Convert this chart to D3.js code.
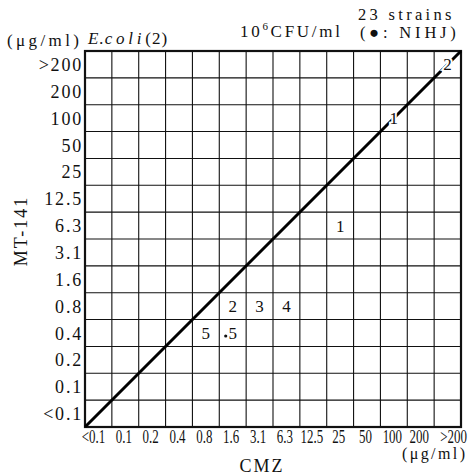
<!DOCTYPE html>
<html>
<head>
<meta charset="utf-8">
<script src="https://cdn.jsdelivr.net/npm/d3@7"></script>
<style>
  body { margin: 0; background: #fff; }
  svg { display: block; font-family: "Liberation Serif", "DejaVu Serif", serif; }
</style>
</head>
<body>
<svg id="chart" width="468" height="476"></svg>
<script>
'use strict';

// MIC categories, same on both axes
var micLabels = ['<0.1', '0.1', '0.2', '0.4', '0.8', '1.6', '3.1', '6.3', '12.5', '25', '50', '100', '200', '>200'];

// one entry per occupied cell
var cmzValues   = ['>200', '100', '25', '1.6', '3.1', '6.3', '0.8', '1.6'];
var mt141Values = ['>200', '100', '6.3', '0.8', '0.8', '0.8', '0.4', '0.4'];
var strainCounts = [2, 1, 1, 2, 3, 4, 5, 5];
var hasNIHJ = [false, false, false, false, false, false, false, true];

(function() {
  var svg = d3.select('#chart');
  svg.append('rect').attr('width', 468).attr('height', 476).attr('fill', '#fff');

  var plotLeft = 85, plotRight = 461, plotTop = 51, plotBottom = 427;

  var x = d3.scaleBand().domain(micLabels).range([plotLeft, plotRight]);
  var y = d3.scaleBand().domain(micLabels).range([plotBottom, plotTop]);

  // grid
  var grid = svg.append('g').attr('stroke', '#111').attr('stroke-width', 1.1);
  micLabels.slice(1).forEach(function(d) {
    grid.append('line')
      .attr('x1', x(d)).attr('x2', x(d))
      .attr('y1', plotTop).attr('y2', plotBottom);
    grid.append('line')
      .attr('x1', plotLeft).attr('x2', plotRight)
      .attr('y1', y(d) + y.bandwidth()).attr('y2', y(d) + y.bandwidth());
  });

  svg.append('rect')
    .attr('x', plotLeft).attr('y', plotTop)
    .attr('width', plotRight - plotLeft).attr('height', plotBottom - plotTop)
    .attr('fill', 'none').attr('stroke', '#111').attr('stroke-width', 2.2);

  // line of equal MIC
  svg.append('line')
    .attr('x1', x.range()[0]).attr('y1', y.range()[0])
    .attr('x2', x.range()[1]).attr('y2', y.range()[1])
    .attr('stroke', '#000').attr('stroke-width', 3);

  // counts in cells
  var cells = svg.append('g').attr('font-size', 17).attr('text-anchor', 'middle');
  cmzValues.forEach(function(c, i) {
    var cx = x(c) + x.bandwidth() / 2;
    var cy = y(mt141Values[i]) + y.bandwidth() / 2;
    cells.append('text')
      .attr('x', cx).attr('y', cy + 6)
      .attr('stroke', '#fff').attr('stroke-width', 4)
      .attr('paint-order', 'stroke')
      .attr('fill', '#111')
      .text(strainCounts[i]);
    if (hasNIHJ[i]) {
      cells.append('circle')
        .attr('cx', cx - 7).attr('cy', cy + 3)
        .attr('r', 1.6).attr('fill', '#111');
    }
  });

  // y tick labels
  svg.append('g').attr('font-size', 18).attr('text-anchor', 'end').attr('fill', '#111')
    .attr('letter-spacing', 1.8)
    .selectAll('text').data(micLabels).join('text')
    .attr('x', 83)
    .attr('y', function(d) { return y(d) + y.bandwidth() / 2 + 6.5; })
    .text(function(d) { return d; });

  // x tick labels (condensed); the < and > sit outside the number
  svg.append('g').attr('font-size', 18).attr('text-anchor', 'middle').attr('fill', '#111')
    .selectAll('text').data(micLabels).join('text')
    .attr('transform', function(d) {
      var shift = -1.5;
      if (d.charAt(0) === '<') shift = -5;
      if (d.charAt(0) === '>') shift = 6;
      return 'translate(' + (x(d) + x.bandwidth() / 2 + shift) + ',443) scale(0.72,1)';
    })
    .text(function(d) { return d; });

  // titles
  var t = svg.append('g').attr('fill', '#111').attr('font-size', 17);
  t.append('text').attr('x', 7).attr('y', 46).attr('letter-spacing', 3.4)
    .text('(\u03bcg/ml)');
  var eco = t.append('text').attr('x', 88).attr('y', 44);
  eco.append('tspan').attr('font-style', 'italic').attr('letter-spacing', 1).text('E.');
  eco.append('tspan').attr('font-style', 'italic').attr('letter-spacing', 3.8).text('coli');
  eco.append('tspan').attr('letter-spacing', 1).text('(2)');

  var cfu = t.append('text').attr('x', 240).attr('y', 37).attr('letter-spacing', 2.7);
  cfu.append('tspan').text('10');
  cfu.append('tspan').attr('font-size', 11).attr('dy', -7).text('6');
  cfu.append('tspan').attr('dy', 7).text('CFU/ml');

  t.append('text').attr('x', 358).attr('y', 20).attr('font-size', 16.5).attr('letter-spacing', 3.3)
    .text('23 strains');
  t.append('text').attr('x', 360).attr('y', 38).attr('font-size', 16.5).attr('letter-spacing', 3.8)
    .text('(\u25cf: NIHJ)');

  t.append('text').attr('x', 262).attr('y', 472).attr('font-size', 18)
    .attr('text-anchor', 'middle').attr('letter-spacing', 2).text('CMZ');
  t.append('text').attr('x', 402).attr('y', 459).attr('font-size', 16).attr('letter-spacing', 2.4)
    .text('(\u03bcg/ml)');

  t.append('text')
    .attr('transform', 'translate(27,231) rotate(-90)')
    .attr('font-size', 18).attr('text-anchor', 'middle').attr('letter-spacing', 2)
    .text('MT-141');
})();
</script>
</body>
</html>
